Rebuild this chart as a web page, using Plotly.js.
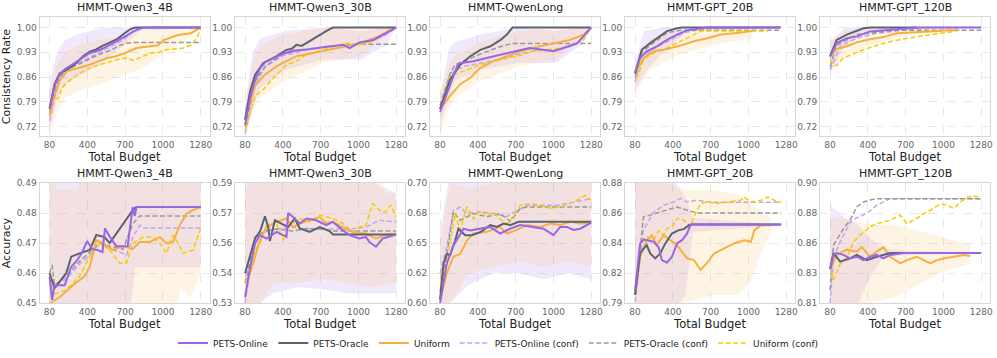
<!DOCTYPE html>
<html>
<head>
<meta charset="utf-8">
<script src="https://cdn.plot.ly/plotly-3.0.1.min.js"></script>
<style>
  html, body { margin: 0; padding: 0; background: #fff; }
  #chart { width: 997px; height: 358px; }
</style>
</head>
<body>
<div id="chart"></div>
<script>
// panel titles, series names, tick labels
const modelNames = ['HMMT-Qwen3_4B', 'HMMT-Qwen3_30B', 'HMMT-QwenLong', 'HMMT-GPT_20B', 'HMMT-GPT_120B'];
const seriesNames = ['PETS-Online', 'PETS-Oracle', 'Uniform', 'PETS-Online (conf)', 'PETS-Oracle (conf)', 'Uniform (conf)'];
const xTickVals = [80, 380, 680, 980, 1280];
const xTickText = ['80', '400', '700', '1000', '1280'];
const consTickVals = [0.72, 0.79, 0.86, 0.93, 1.00];
const consTickText = ['0.72', '0.79', '0.86', '0.93', '1.00'];
const accRanges = [[0.45, 0.49], [0.53, 0.59], [0.60, 0.70], [0.794, 0.88], [0.81, 0.902]];
const accTickText = [
  ['0.45', '0.46', '0.47', '0.48', '0.49'],
  ['0.53', '0.54', '0.56', '0.57', '0.59'],
  ['0.60', '0.62', '0.65', '0.68', '0.70'],
  ['0.79', '0.82', '0.84', '0.86', '0.88'],
  ['0.81', '0.83', '0.86', '0.88', '0.90']
];

// ---- consistency rate, [budget, value] ----
const c1Online = [[80,.769],[120,.835],[160,.868],[200,.882],[250,.893],[300,.905],[350,.918],[400,.928],[450,.933],[500,.940],[560,.952],[620,.962],[680,.975],[740,.988],[800,.997],[830,1],[1280,1]];
const c1Oracle = [[80,.772],[120,.84],[160,.87],[200,.878],[250,.888],[300,.902],[350,.92],[400,.932],[450,.938],[500,.948],[560,.958],[620,.968],[680,.985],[720,.995],[760,1],[1280,1]];
const c1Uniform = [[80,.75],[120,.81],[160,.85],[218,.877],[300,.885],[400,.895],[470,.905],[540,.914],[600,.918],[680,.928],[770,.942],[880,.947],[940,.95],[990,.965],[1050,.972],[1100,.979],[1200,.984],[1280,1]];
const c1OnlineConf = [[80,.735],[120,.80],[160,.85],[200,.875],[260,.89],[330,.903],[400,.915],[480,.93],[560,.945],[640,.96],[700,.975],[760,.995],[800,1],[1280,1]];
const c1OracleConf = [[80,.76],[120,.82],[160,.86],[200,.878],[260,.888],[330,.90],[400,.91],[480,.925],[560,.935],[640,.95],[700,.956],[760,.958],[1280,.958]];
const c1UniformConf = [[80,.76],[100,.79],[125,.797],[150,.80],[180,.83],[218,.844],[300,.868],[400,.886],[480,.895],[560,.903],[640,.912],[700,.914],[740,.907],[800,.915],[880,.928],[950,.93],[1000,.937],[1080,.94],[1140,.942],[1200,.95],[1240,.965],[1280,.995]];
const c1OnlineBand = [[80,.71,.85],[140,.80,.93],[200,.84,.965],[300,.86,.98],[400,.88,.99],[500,.90,1],[600,.93,1],[700,.96,1],[800,.99,1],[1280,1,1]];
const c1UniformBand = [[80,.70,.82],[140,.76,.90],[200,.80,.93],[300,.82,.95],[400,.83,.96],[550,.85,.97],[700,.87,.98],[850,.89,.99],[1000,.93,1],[1150,.96,1],[1280,1,1]];

const c2Online = [[80,.725],[120,.80],[160,.853],[200,.885],[240,.902],[300,.912],[380,.926],[470,.935],[600,.939],[730,.946],[860,.951],[910,.942],[990,.958],[1100,.965],[1180,.98],[1280,1]];
const c2Oracle = [[80,.74],[120,.82],[160,.867],[225,.90],[330,.919],[409,.937],[450,.94],[488,.951],[530,.948],[567,.956],[645,.975],[724,.99],[777,1],[1280,1]];
const c2Uniform = [[80,.74],[159,.835],[225,.863],[330,.891],[409,.905],[488,.919],[620,.928],[750,.937],[880,.947],[1010,.958],[1140,.975],[1280,1]];
const c2OnlineConf = [[80,.70],[160,.84],[240,.89],[380,.92],[500,.93],[600,.94],[700,.945],[850,.95],[1000,.955],[1100,.965],[1200,.98],[1280,1]];
const c2OracleConf = [[80,.72],[160,.85],[240,.89],[380,.925],[500,.935],[700,.945],[850,.95],[1000,.953],[1280,.953]];
const c2UniformConf = [[80,.71],[159,.807],[225,.825],[330,.867],[409,.895],[488,.905],[567,.923],[750,.942],[880,.956],[990,.951],[1090,.96],[1200,.99],[1280,1]];
const c2OnlineBand = [[80,.69,.78],[140,.77,.93],[200,.83,.97],[400,.88,.99],[700,.91,1],[1000,.91,.99],[1200,.95,1],[1280,1,1]];
const c2UniformBand = [[80,.69,.78],[140,.76,.90],[200,.80,.95],[400,.85,.98],[700,.90,1],[1000,.92,1],[1280,1,1]];

const c3Online = [[80,.762],[120,.80],[160,.844],[220,.895],[250,.90],[345,.905],[450,.914],[555,.923],[690,.933],[790,.942],[900,.937],[980,.933],[1060,.942],[1170,.956],[1280,1]];
const c3Oracle = [[80,.77],[160,.853],[240,.895],[320,.919],[400,.937],[480,.947],[560,.965],[610,.98],[655,1],[1280,1]];
const c3Uniform = [[80,.77],[140,.80],[160,.807],[240,.84],[320,.858],[400,.886],[505,.905],[610,.919],[715,.933],[875,.947],[980,.956],[1110,.965],[1220,.98],[1280,1]];
const c3OnlineConf = [[80,.77],[160,.87],[265,.89],[400,.90],[550,.91],[700,.925],[850,.935],[1000,.935],[1150,.95],[1280,1]];
const c3OracleConf = [[80,.78],[160,.87],[200,.895],[400,.925],[550,.945],[650,.955],[1280,.955]];
const c3UniformConf = [[80,.77],[160,.863],[265,.877],[400,.895],[560,.909],[690,.919],[820,.933],[980,.939],[1110,.947],[1220,.965],[1280,1]];
const c3OnlineBand = [[80,.72,.80],[150,.80,.94],[200,.85,.96],[400,.88,.98],[700,.90,1],[1000,.90,.99],[1200,.95,1],[1280,1,1]];
const c3UniformBand = [[80,.70,.82],[150,.77,.89],[200,.80,.92],[400,.85,.96],[700,.89,.99],[1000,.91,1],[1280,1,1]];

const c4Online = [[80,.874],[120,.914],[173,.933],[253,.947],[333,.965],[413,.98],[493,.992],[600,.998],[650,1],[1240,1]];
const c4Oracle = [[80,.87],[133,.937],[200,.956],[280,.975],[333,.99],[413,.998],[450,1],[1227,1]];
const c4Uniform = [[80,.87],[147,.914],[227,.933],[333,.939],[440,.949],[547,.961],[653,.97],[760,.98],[867,.984],[1013,.99]];
const c4OnlineConf = [[80,.846],[120,.90],[200,.935],[333,.96],[467,.985],[600,.995],[650,1],[1240,1]];
const c4OracleConf = [[80,.86],[133,.93],[200,.95],[280,.97],[333,.985],[440,.9925],[1227,.9925]];
const c4UniformConf = [[80,.86],[100,.862],[147,.91],[227,.928],[333,.942],[440,.96],[547,.98],[600,.99],[1133,.99]];
const c4OnlineBand = [[80,.82,.90],[150,.87,.99],[300,.93,1],[500,.99,1],[1240,1,1]];
const c4UniformBand = [[80,.82,.89],[200,.88,.97],[400,.92,.99],[700,.95,1],[1013,.97,1]];

const c5Online = [[80,.917],[133,.956],[213,.97],[292,.975],[398,.989],[504,.993],[637,.996],[769,1],[1280,1]];
const c5Oracle = [[80,.92],[133,.965],[213,.98],[292,.99],[345,.998],[400,1],[769,1]];
const c5Uniform = [[80,.92],[133,.939],[213,.947],[292,.958],[398,.967],[504,.973],[610,.984],[769,.987],[955,.99],[1087,.993]];
const c5OnlineConf = [[80,.88],[159,.947],[292,.97],[451,.984],[690,.993],[822,1],[1280,1]];
const c5OracleConf = [[80,.89],[133,.95],[292,.98],[557,.99],[600,.992],[1280,.992]];
const c5UniformConf = [[80,.91],[107,.895],[130,.892],[186,.914],[292,.93],[425,.947],[557,.96],[690,.97],[822,.977],[955,.984],[1087,.99]];
const c5OnlineBand = [[80,.87,.96],[200,.95,1],[400,.99,1],[1280,1,1]];
const c5UniformBand = [[80,.88,.96],[200,.92,.99],[400,.95,1],[700,.98,1],[1087,.99,1]];

// ---- accuracy, [budget, value] ----
const a1Online = [[80,.4588],[100,.4511],[120,.456],[200,.456],[250,.462],[300,.4644],[340,.467],[377,.4707],[420,.468],[460,.4677],[500,.467],[520,.4749],[560,.472],[610,.469],[700,.469],[740,.482],[756,.479],[770,.482],[1280,.482]];
const a1Oracle = [[80,.46],[120,.455],[212,.46],[252,.4655],[318,.4666],[398,.4677],[451,.4727],[517,.472],[557,.47],[610,.4732],[690,.4776],[742,.481],[769,.482],[1280,.482]];
const a1Uniform = [[80,.45],[159,.452],[212,.454],[265,.456],[358,.459],[398,.462],[451,.471],[504,.47],[584,.4677],[663,.469],[742,.468],[796,.4704],[875,.4704],[955,.472],[1008,.47],[1061,.4704],[1114,.476],[1167,.4798],[1220,.481],[1280,.482]];
const a1OnlineConf = [[80,.455],[120,.456],[212,.458],[318,.463],[398,.466],[478,.47],[557,.468],[637,.467],[690,.466],[742,.472],[796,.476],[830,.475],[1280,.475]];
const a1OracleConf = [[80,.46],[100,.4627],[120,.456],[212,.459],[318,.464],[398,.467],[478,.47],[557,.469],[663,.468],[742,.4765],[796,.479],[1280,.479]];
const a1UniformConf = [[80,.46],[106,.453],[212,.4544],[318,.459],[398,.4655],[478,.47],[557,.4677],[610,.465],[637,.4633],[690,.4633],[742,.47],[822,.472],[902,.472],[955,.47],[1008,.4666],[1061,.4727],[1100,.47],[1140,.4666],[1220,.4677],[1280,.4749]];
const a1OnlineBand = [[80,.44,.50],[700,.44,.50],[760,.462,.50],[1280,.462,.50]];
const a1UniformBand = [[80,.44,.50],[130,.44,.488],[300,.44,.488],[400,.44,.50],[1050,.44,.50],[1120,.455,.50],[1200,.452,.50],[1280,.46,.50]];

const a2Online = [[80,.533],[120,.548],[159,.5598],[198,.564],[251,.5623],[330,.5656],[409,.5631],[422,.575],[461,.573],[514,.5698],[567,.5723],[645,.5714],[724,.569],[777,.5706],[856,.5665],[908,.564],[987,.5623],[1040,.5631],[1066,.5607],[1119,.5582],[1172,.5623],[1224,.5631],[1280,.5643]];
const a2Oracle = [[80,.545],[159,.5623],[200,.566],[238,.5734],[264,.568],[277,.561],[317,.5714],[369,.5698],[422,.568],[475,.5723],[514,.5673],[593,.5656],[672,.568],[751,.566],[777,.5643],[1280,.5643]];
const a2Uniform = [[80,.54],[120,.545],[159,.5532],[198,.5615],[251,.568],[330,.5706],[409,.5723],[461,.568],[514,.5698],[593,.5714],[672,.573],[724,.570],[777,.5706],[856,.568],[935,.5656],[1040,.5648],[1119,.5623],[1198,.564],[1280,.5648]];
const a2OnlineConf = [[80,.53],[159,.563],[251,.566],[330,.567],[461,.568],[567,.567],[672,.567],[777,.567],[908,.567],[1040,.568],[1146,.5714],[1280,.5706]];
const a2OracleConf = [[80,.54],[159,.563],[238,.566],[330,.567],[461,.566],[567,.5673],[672,.567],[777,.566],[1280,.566]];
const a2UniformConf = [[80,.535],[159,.5565],[198,.5598],[251,.569],[330,.5698],[383,.5615],[435,.569],[514,.5723],[593,.5706],[672,.574],[777,.5723],[856,.5698],[935,.5656],[987,.568],[1040,.569],[1093,.5797],[1146,.5764],[1198,.5755],[1237,.579],[1280,.573]];
const a2OnlineBand = [[80,.52,.60],[200,.53,.60],[300,.535,.60],[500,.538,.60],[700,.537,.60],[900,.535,.60],[1100,.535,.59],[1280,.535,.585]];
const a2UniformBand = [[80,.52,.585],[200,.53,.60],[300,.54,.60],[500,.54,.60],[700,.542,.60],[900,.54,.60],[1100,.538,.60],[1200,.54,.585],[1280,.54,.585]];

const a3Online = [[80,.60],[133,.633],[186,.648],[226,.655],[266,.662],[318,.6605],[398,.662],[478,.6635],[557,.658],[637,.662],[716,.665],[822,.6635],[902,.662],[981,.6566],[1034,.6635],[1087,.6635],[1140,.661],[1193,.662],[1280,.667]];
const a3Oracle = [[80,.603],[107,.633],[133,.641],[160,.640],[199,.652],[226,.662],[279,.6566],[332,.6566],[398,.659],[478,.665],[531,.6635],[584,.6663],[637,.665],[703,.6677],[1280,.6677]];
const a3Uniform = [[80,.603],[133,.625],[186,.6387],[239,.641],[292,.652],[345,.658],[451,.6594],[557,.6635],[610,.658],[690,.661],[769,.665],[875,.6635],[955,.6663],[1034,.665],[1114,.6677],[1193,.6663],[1280,.667]];
const a3OnlineConf = [[80,.625],[133,.647],[186,.677],[239,.680],[292,.6746],[398,.676],[504,.6746],[610,.672],[690,.677],[769,.6815],[875,.6815],[1008,.6815],[1140,.684],[1280,.687]];
const a3OracleConf = [[80,.61],[133,.64],[186,.676],[239,.669],[345,.6746],[451,.672],[557,.6746],[637,.668],[716,.6787],[769,.68],[1280,.68]];
const a3UniformConf = [[80,.62],[133,.633],[199,.6746],[239,.661],[292,.68],[345,.670],[398,.677],[451,.673],[504,.676],[557,.670],[610,.666],[676,.674],[716,.6815],[796,.683],[875,.6815],[955,.679],[1034,.680],[1114,.683],[1193,.687],[1233,.6898],[1280,.6856]];
const a3OnlineBand = [[80,.59,.66],[160,.60,.71],[300,.615,.71],[500,.625,.71],[700,.625,.70],[900,.62,.70],[1100,.625,.70],[1280,.62,.70]];
const a3UniformBand = [[80,.59,.65],[160,.60,.70],[300,.625,.695],[500,.63,.70],[700,.635,.70],[900,.63,.70],[1100,.635,.70],[1280,.63,.70]];

const a4Online = [[80,.8035],[120,.8368],[150,.8395],[173,.8391],[227,.838],[267,.834],[293,.8249],[333,.823],[373,.8273],[413,.8368],[453,.8391],[493,.8439],[520,.8503],[1240,.8503]];
const a4Oracle = [[80,.80],[120,.83],[173,.8356],[200,.8296],[240,.8261],[280,.8296],[320,.8368],[347,.840],[373,.8439],[427,.8463],[467,.847],[507,.8498],[530,.8503],[1240,.8503]];
const a4Uniform = [[80,.80],[120,.8273],[173,.839],[213,.8427],[253,.8356],[307,.8427],[360,.8391],[413,.8356],[453,.8308],[493,.8261],[547,.8249],[600,.8178],[653,.823],[707,.8296],[787,.8332],[867,.8368],[947,.8391],[1000,.838],[1027,.8463],[1080,.8498],[1160,.8498]];
const a4OnlineConf = [[80,.795],[147,.8463],[227,.8593],[307,.864],[387,.8665],[440,.869],[493,.8665],[573,.8677],[653,.8665],[700,.8662],[1240,.8662]];
const a4OracleConf = [[80,.80],[147,.8558],[200,.857],[333,.8605],[413,.8629],[493,.8605],[573,.8586],[1240,.8586]];
const a4UniformConf = [[80,.801],[120,.8368],[173,.8415],[227,.8391],[267,.846],[307,.8427],[333,.8475],[373,.8487],[413,.8546],[467,.8534],[520,.8487],[547,.8558],[600,.8653],[653,.8665],[733,.8653],[813,.8665],[920,.8677],[947,.870],[1000,.8665],[1080,.8677],[1133,.870],[1213,.8665],[1240,.8665]];
const a4OnlineBand = [[80,.77,.90],[200,.78,.89],[400,.79,.88],[480,.80,.87],[540,.845,.855],[1240,.85,.85]];
const a4UniformBand = [[80,.78,.89],[300,.79,.88],[500,.795,.875],[700,.80,.875],[900,.80,.872],[1000,.81,.865],[1080,.83,.86],[1160,.845,.855]];

const a5Online = [[80,.836],[107,.847],[133,.8484],[186,.847],[239,.8443],[292,.8456],[345,.843],[398,.8456],[451,.847],[504,.8443],[557,.847],[663,.8484],[1280,.8484]];
const a5Oracle = [[80,.836],[107,.8484],[160,.8418],[239,.8443],[292,.847],[371,.8430],[451,.8456],[557,.8484],[1280,.8484]];
const a5Uniform = [[80,.836],[133,.847],[213,.851],[292,.8495],[332,.853],[398,.8456],[451,.8495],[504,.853],[557,.8456],[637,.8405],[690,.843],[769,.8456],[822,.843],[875,.8405],[928,.843],[981,.8443],[1061,.8456],[1140,.847],[1193,.8462]];
const a5OnlineConf = [[80,.81],[107,.8445],[160,.857],[239,.872],[292,.8755],[371,.8786],[451,.885],[557,.89],[1280,.89]];
const a5OracleConf = [[80,.82],[107,.8545],[186,.867],[239,.8735],[292,.8837],[345,.8875],[398,.889],[451,.890],[1280,.890]];
const a5UniformConf = [[80,.84],[107,.828],[160,.840],[213,.845],[266,.857],[319,.862],[398,.8685],[451,.871],[557,.8735],[637,.8774],[690,.871],[769,.875],[822,.8786],[875,.881],[955,.886],[1008,.885],[1061,.8825],[1114,.8875],[1167,.891],[1220,.892],[1280,.891]];
const a5OnlineBand = [[80,.80,.885],[200,.80,.875],[300,.81,.87],[400,.83,.86],[500,.845,.852],[700,.847,.850],[1280,.848,.849]];
const a5UniformBand = [[80,.80,.875],[200,.805,.875],[400,.81,.87],[600,.815,.87],[800,.825,.865],[1000,.835,.86],[1193,.84,.855]];

const panels = [
  {lines: [c1Online, c1Oracle, c1Uniform, c1OnlineConf, c1OracleConf, c1UniformConf], bands: [c1OnlineBand, c1UniformBand]},
  {lines: [c2Online, c2Oracle, c2Uniform, c2OnlineConf, c2OracleConf, c2UniformConf], bands: [c2OnlineBand, c2UniformBand]},
  {lines: [c3Online, c3Oracle, c3Uniform, c3OnlineConf, c3OracleConf, c3UniformConf], bands: [c3OnlineBand, c3UniformBand]},
  {lines: [c4Online, c4Oracle, c4Uniform, c4OnlineConf, c4OracleConf, c4UniformConf], bands: [c4OnlineBand, c4UniformBand]},
  {lines: [c5Online, c5Oracle, c5Uniform, c5OnlineConf, c5OracleConf, c5UniformConf], bands: [c5OnlineBand, c5UniformBand]},
  {lines: [a1Online, a1Oracle, a1Uniform, a1OnlineConf, a1OracleConf, a1UniformConf], bands: [a1OnlineBand, a1UniformBand]},
  {lines: [a2Online, a2Oracle, a2Uniform, a2OnlineConf, a2OracleConf, a2UniformConf], bands: [a2OnlineBand, a2UniformBand]},
  {lines: [a3Online, a3Oracle, a3Uniform, a3OnlineConf, a3OracleConf, a3UniformConf], bands: [a3OnlineBand, a3UniformBand]},
  {lines: [a4Online, a4Oracle, a4Uniform, a4OnlineConf, a4OracleConf, a4UniformConf], bands: [a4OnlineBand, a4UniformBand]},
  {lines: [a5Online, a5Oracle, a5Uniform, a5OnlineConf, a5OracleConf, a5UniformConf], bands: [a5OnlineBand, a5UniformBand]}
];

const lineStyles = [
  {color: '#9966e6', width: 2, dash: 'solid'},
  {color: '#5c6370', width: 2, dash: 'solid'},
  {color: '#f5b041', width: 2, dash: 'solid'},
  {color: '#c4a5f2', width: 1.5, dash: '5px,2.5px'},
  {color: '#999999', width: 1.5, dash: '5px,2.5px'},
  {color: '#f5cc00', width: 1.5, dash: '5px,2.5px'}
];
const bandColors = ['rgba(153,102,230,0.14)', 'rgba(245,176,65,0.14)'];
const drawOrder = [3, 4, 5, 2, 1, 0];

// subplot boxes in pixels
const W = 997, H = 358;
const colLeft = [39.5, 235, 430, 625, 820];
const colWidth = 170;
const rowTop = [17, 184];
const rowBottom = [137, 305];

const traces = [];
const layout = {
  width: W, height: H,
  margin: {l: 0, r: 0, t: 0, b: 0},
  paper_bgcolor: '#fff', plot_bgcolor: '#fff',
  font: {family: 'DejaVu Sans, sans-serif', color: '#222'},
  showlegend: true,
  legend: {orientation: 'h', x: 0.5, xanchor: 'center', y: 1 - 345 / H, yanchor: 'middle',
           font: {size: 9, color: '#222'}, traceorder: 'normal'},
  annotations: []
};

panels.forEach((p, i) => {
  const row = Math.floor(i / 5), col = i % 5;
  const sfx = i === 0 ? '' : String(i + 1);

  p.bands.forEach((b, k) => {
    const xs = b.map(d => d[0]);
    traces.push({
      x: xs.concat(xs.slice().reverse()),
      y: b.map(d => d[1]).concat(b.map(d => d[2]).reverse()),
      mode: 'lines', fill: 'toself', fillcolor: bandColors[k],
      line: {width: 0}, showlegend: false, hoverinfo: 'skip',
      xaxis: 'x' + sfx, yaxis: 'y' + sfx
    });
  });

  drawOrder.forEach(s => {
    const pts = p.lines[s];
    traces.push({
      x: pts.map(d => d[0]), y: pts.map(d => d[1]),
      mode: 'lines', name: seriesNames[s], legendrank: s + 1,
      showlegend: i === 0, line: lineStyles[s],
      xaxis: 'x' + sfx, yaxis: 'y' + sfx
    });
  });

  const yRange = row === 0 ? [0.693, 1.030] : accRanges[col];
  let yVals, yText;
  if (row === 0) { yVals = consTickVals; yText = consTickText; }
  else {
    yVals = [0, 1, 2, 3, 4].map(k => yRange[0] + k * (yRange[1] - yRange[0]) / 4);
    yText = accTickText[col];
  }

  const common = {
    showline: true, mirror: true, linecolor: '#d6d6d6', linewidth: 1,
    showgrid: true, gridcolor: '#e3e3e3', griddash: 'dash', gridwidth: 0.8,
    zeroline: false, ticks: '', fixedrange: true,
    tickfont: {size: 9, color: '#666'}
  };

  layout['xaxis' + sfx] = Object.assign({}, common, {
    domain: [colLeft[col] / W, (colLeft[col] + colWidth) / W],
    anchor: 'y' + sfx, range: [0, 1350],
    tickmode: 'array', tickvals: xTickVals, ticktext: xTickText,
    title: {text: 'Total Budget', font: {size: 11.5, color: '#222'}, standoff: 3}
  });
  const yTitle = col === 0 ? (row === 0 ? 'Consistency Rate' : 'Accuracy') : '';
  layout['yaxis' + sfx] = Object.assign({}, common, {
    domain: [1 - rowBottom[row] / H, 1 - rowTop[row] / H],
    anchor: 'x' + sfx, range: yRange,
    tickmode: 'array', tickvals: yVals, ticktext: yText,
    title: {text: yTitle, font: {size: 11, color: '#222'}, standoff: 4}
  });

  layout.annotations.push({
    text: modelNames[col], showarrow: false,
    xref: 'paper', yref: 'paper',
    x: (colLeft[col] + colWidth / 2) / W, y: 1 - rowTop[row] / H,
    xanchor: 'center', yanchor: 'bottom', yshift: 1,
    font: {size: 11, color: '#222'}
  });
});

Plotly.newPlot('chart', traces, layout, {staticPlot: true});
</script>
</body>
</html>
